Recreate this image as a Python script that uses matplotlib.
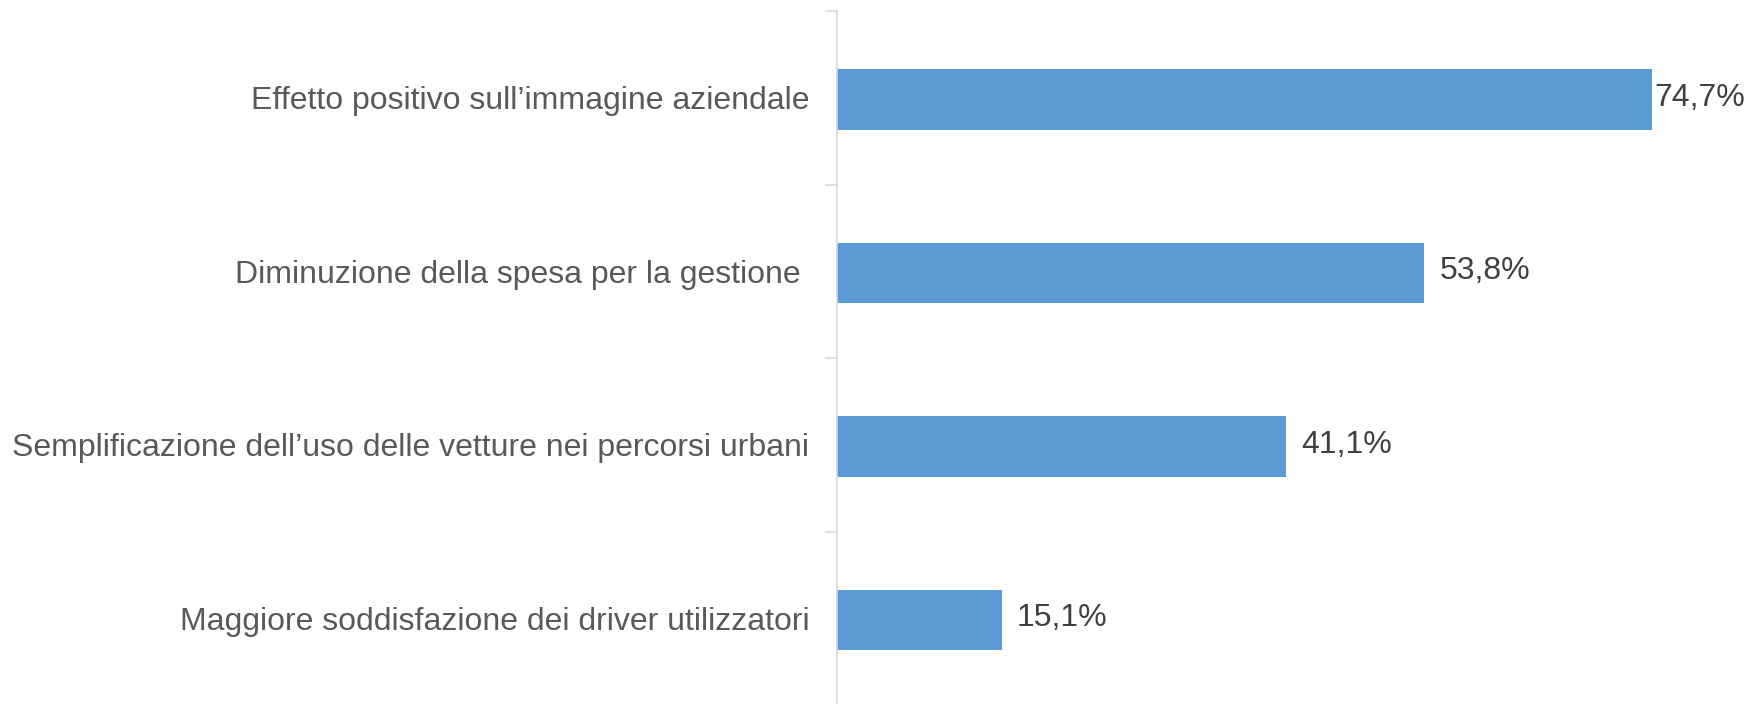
import numpy as np
from matplotlib import pyplot as plt

categories = [
    'Effetto positivo sull\u2019immagine aziendale',
    'Diminuzione della spesa per la gestione ',
    'Semplificazione dell\u2019uso delle vetture nei percorsi urbani',
    'Maggiore soddisfazione dei driver utilizzatori',
]
values = [74.7, 53.8, 41.1, 15.1]
value_labels = ['74,7%', '53,8%', '41,1%', '15,1%']

BAR_COLOR = '#5B9BD5'
AXIS_COLOR = '#D9D9D9'

plt.rcParams['font.family'] = ['Liberation Sans', 'DejaVu Sans']

fig = plt.figure(figsize=(17.44, 7.04), dpi=100)
ax = fig.add_axes([837 / 1744, 0.0, 1 - 837 / 1744, 1 - 11 / 704])

y = np.arange(len(categories))
ax.barh(y + 0.01, values, height=0.35, color=BAR_COLOR)

ax.set_xlim(0, 83.1)
ax.set_ylim(3.494, -0.5)

for sp in ['top', 'right', 'bottom']:
    ax.spines[sp].set_visible(False)
ax.spines['left'].set_color(AXIS_COLOR)
ax.spines['left'].set_linewidth(1.2)

ax.set_xticks([])
ax.set_yticks(y)
ax.set_yticklabels(categories, fontsize=23, color='#595959')
ax.tick_params(axis='y', which='major', length=0, pad=20)
ax.set_yticks(np.arange(-0.5, len(categories) - 1, 1.0), minor=True)
ax.tick_params(axis='y', which='minor', length=9, width=1.2, color=AXIS_COLOR)

for yi, v, lab in zip(y, values, value_labels):
    # the largest label sits right against the bar end (no room on the right)
    pad = 0.15 if v > 70 else 1.4
    ax.text(v + pad, yi, lab, va='center', ha='left', fontsize=23, color='#404040')

fig.savefig('out.png', dpi=100)
